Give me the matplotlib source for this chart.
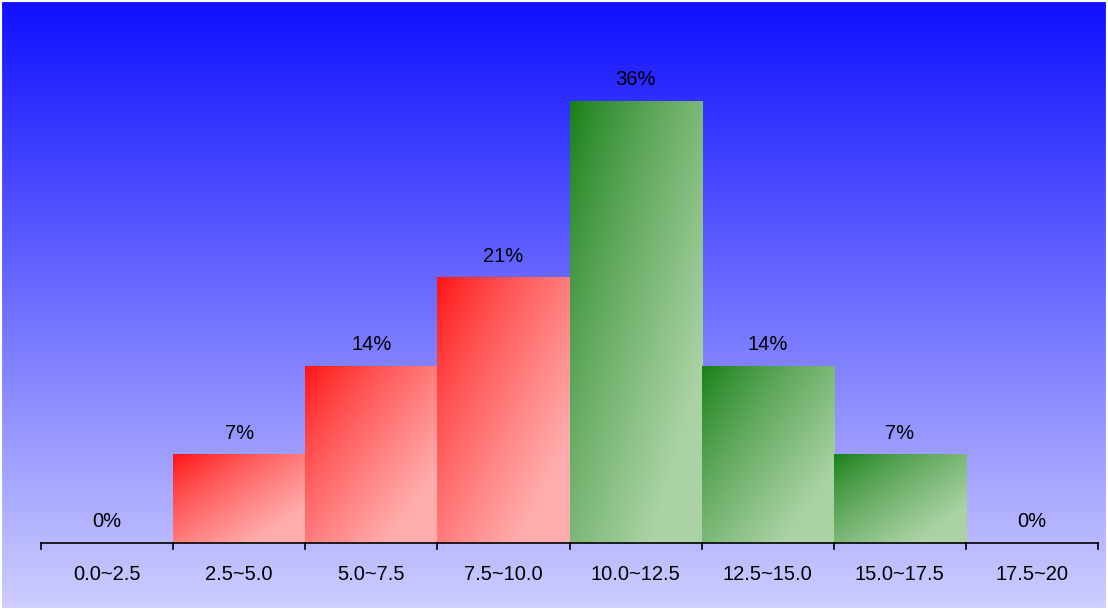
import numpy as np
import matplotlib.pyplot as plt

# histogram data: counts per bin out of 14
bin_labels = ["0.0~2.5", "2.5~5.0", "5.0~7.5", "7.5~10.0", "10.0~12.5",
              "12.5~15.0", "15.0~17.5", "17.5~20"]
bin_edges = [0.0, 2.5, 5.0, 7.5, 10.0, 12.5, 15.0, 17.5, 20.0]
counts = [0, 1, 2, 3, 5, 2, 1, 0]
bar_groups = ["red", "red", "red", "red", "green", "green", "green", "green"]

total = sum(counts)
percents = [100.0 * c / total for c in counts]

W, H = 1108, 610
fig = plt.figure(figsize=(W / 100, H / 100), dpi=100)
plt.rcParams["font.family"] = ["Liberation Sans", "DejaVu Sans"]

# axis placed so data 0..20 spans the drawn baseline
px_per_x = (1098 - 41) / 20.0
px_per_pct = 442 / (100.0 * 5 / 14)
base_px = H - 543
ax = fig.add_axes([0, 0, 1, 1])
ax.set_xlim(-41 / px_per_x, 20 + (W - 1098) / px_per_x)
ax.set_ylim(-base_px / px_per_pct, (H - base_px) / px_per_pct)
ax.axis("off")

# vertical background gradient
bg_top = np.array([16, 16, 255]) / 255
bg_bot = np.array([206, 206, 255]) / 255
t = np.linspace(0, 1, 256)[:, None, None]
bg = bg_top * (1 - t) + bg_bot * t
x0, x1 = ax.get_xlim()
y0, y1 = ax.get_ylim()
ax.imshow(bg, extent=[x0, x1, y0, y1], aspect="auto", origin="upper", zorder=0)

grad_colors = {
  "red": (np.array([255, 16, 16]) / 255, np.array([255, 172, 172]) / 255),
  "green": (np.array([20, 126, 20]) / 255, np.array([170, 210, 164]) / 255),
}


def _gradient_bar(left, right, top, group):
  start, end = grad_colors[group]
  u = np.linspace(0, 1, 120)[None, :]
  v = np.linspace(0, 1, 240)[:, None]
  tt = np.clip((u + v) / 2 / 0.8, 0, 1) ** 0.8
  tt = tt[:, :, None]
  img = start * (1 - tt) + end * tt
  ax.imshow(img, extent=[left, right, 0, top], aspect="auto", origin="upper",
            zorder=2, interpolation="bilinear")


for i, pct in enumerate(percents):
  left, right = bin_edges[i], bin_edges[i + 1]
  if pct > 0:
    _gradient_bar(left, right, pct, bar_groups[i])
  ax.text((left + right) / 2, pct + 12 / px_per_pct, f"{pct:.0f}%",
          ha="center", va="bottom", fontsize=14.5, color="black", zorder=4)
  ax.text((left + right) / 2, -31 / px_per_pct, bin_labels[i],
          ha="center", va="center", fontsize=14.5, color="black", zorder=4)

# baseline and ticks
ax.plot([bin_edges[0], bin_edges[-1]], [0, 0], color="black", lw=1.2, zorder=3)
for edge in bin_edges:
  ax.plot([edge, edge], [0, -6 / px_per_pct], color="black", lw=1.2, zorder=3)

ax.set_xlim(x0, x1)
ax.set_ylim(y0, y1)

# thin white frame
fig.patches.append(plt.Rectangle((0, 0), 1, 1, transform=fig.transFigure,
                                 fill=False, edgecolor="white", lw=3))

fig.savefig("out.png", dpi=100)
